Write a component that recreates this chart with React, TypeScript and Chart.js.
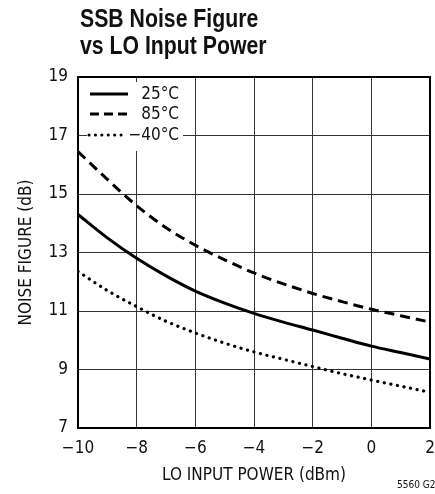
import React, { useEffect, useRef } from "react";
import { Chart, registerables } from "chart.js";

Chart.register(...registerables);

const xValues = [-10, -9, -8, -7, -6, -5, -4, -3, -2, -1, 0, 1, 2];
const nf25 = [14.3, 13.5, 12.8, 12.2, 11.68, 11.27, 10.92, 10.62, 10.35, 10.07, 9.8, 9.58, 9.36];
const nf85 = [16.45, 15.5, 14.6, 13.85, 13.25, 12.75, 12.3, 11.93, 11.6, 11.32, 11.06, 10.84, 10.62];
const nfm40 = [12.35, 11.7, 11.15, 10.65, 10.25, 9.9, 9.6, 9.35, 9.1, 8.86, 8.64, 8.43, 8.22];

const seriesLabels = ["25\u00B0C", "85\u00B0C", "\u221240\u00B0C"];
const titleLines = ["SSB Noise Figure", "vs LO Input Power"];
const xTitle = "LO INPUT POWER (dBm)";
const yTitle = "NOISE FIGURE (dB)";
const footnote = "5560 G22";

const FONT = '"DejaVu Sans Condensed", "Liberation Sans", sans-serif';
const TITLE_FONT = '"Liberation Sans", Arial, sans-serif';

const fmt = (v: number) => (v < 0 ? "\u2212" + Math.abs(v) : String(v));

const decorPlugin = {
  id: "decor",
  afterDraw(chart: any) {
    const { ctx, chartArea } = chart;
    ctx.save();
    // frame
    ctx.strokeStyle = "#000";
    ctx.lineWidth = 2;
    ctx.strokeRect(chartArea.left, chartArea.top, chartArea.right - chartArea.left, chartArea.bottom - chartArea.top);

    // title (condensed by horizontal scaling)
    ctx.save();
    ctx.fillStyle = "#111";
    ctx.font = `bold 25px ${TITLE_FONT}`;
    ctx.textAlign = "left";
    ctx.textBaseline = "alphabetic";
    ctx.translate(80, 0);
    ctx.scale(0.85, 1);
    ctx.fillText(titleLines[0], 0, 27);
    ctx.fillText(titleLines[1], 0, 54);
    ctx.restore();

    // legend box
    ctx.fillStyle = "#fff";
    ctx.fillRect(87, 82, 96, 69);
    const rows = [
      { y: 94, dash: [] as number[], cap: "butt" },
      { y: 114, dash: [9, 5], cap: "butt" },
      { y: 135, dash: [0.1, 6.3], cap: "round" },
    ];
    rows.forEach((r, i) => {
      ctx.beginPath();
      ctx.strokeStyle = "#000";
      ctx.lineWidth = 3;
      ctx.lineCap = r.cap;
      ctx.setLineDash(r.dash);
      ctx.moveTo(i === 2 ? 89 : 90, r.y);
      ctx.lineTo(i === 2 ? 127 : 128, r.y);
      ctx.stroke();
      ctx.setLineDash([]);
      ctx.fillStyle = "#111";
      ctx.font = `17px ${FONT}`;
      ctx.textAlign = "right";
      ctx.textBaseline = "middle";
      ctx.fillText(seriesLabels[i], 179, r.y + 1);
    });

    // footnote
    ctx.fillStyle = "#111";
    ctx.font = `10px ${FONT}`;
    ctx.textAlign = "left";
    ctx.textBaseline = "middle";
    ctx.fillText(footnote, 397, 485);
    ctx.restore();
  },
};

export default function App() {
  const ref = useRef<HTMLCanvasElement | null>(null);
  useEffect(() => {
    if (!ref.current) return;
    const mk = (vals: number[]) => xValues.map((x, i) => ({ x, y: vals[i] }));
    const chart = new Chart(ref.current, {
      type: "line",
      data: {
        datasets: [
          {
            label: seriesLabels[0],
            data: mk(nf25),
            borderColor: "#000",
            borderWidth: 3,
            pointRadius: 0,
            cubicInterpolationMode: "monotone",
          },
          {
            label: seriesLabels[1],
            data: mk(nf85),
            borderColor: "#000",
            borderWidth: 3,
            borderDash: [10, 6],
            pointRadius: 0,
            cubicInterpolationMode: "monotone",
          },
          {
            label: seriesLabels[2],
            data: mk(nfm40),
            borderColor: "#000",
            borderWidth: 3.2,
            borderDash: [0.1, 6.6],
            borderCapStyle: "round",
            pointRadius: 0,
            cubicInterpolationMode: "monotone",
          },
        ],
      },
      options: {
        animation: false,
        responsive: false,
        layout: { padding: { left: 0, top: 77, right: 5, bottom: 0 } },
        plugins: { legend: { display: false }, tooltip: { enabled: false }, title: { display: false } },
        scales: {
          x: {
            type: "linear",
            min: -10,
            max: 2,
            ticks: {
              stepSize: 2,
              color: "#111",
              padding: 10,
              font: { family: FONT, size: 17 },
              callback: (v: any) => fmt(Number(v)),
              maxRotation: 0,
            },
            grid: { color: "#333", lineWidth: 1, drawTicks: false },
            border: { display: false },
            title: {
              display: true,
              text: xTitle,
              color: "#111",
              font: { family: FONT, size: 17 },
              padding: { top: 0, bottom: 8 },
            },
            afterFit: (s: any) => {
              s.height = 66;
              s.paddingLeft = 0;
              s.paddingRight = 0;
            },
          },
          y: {
            type: "linear",
            min: 7,
            max: 19,
            ticks: {
              stepSize: 2,
              color: "#111",
              padding: 10,
              font: { family: FONT, size: 17 },
            },
            grid: { color: "#333", lineWidth: 1, drawTicks: false },
            border: { display: false },
            title: {
              display: true,
              text: yTitle,
              color: "#111",
              font: { family: FONT, size: 17 },
              padding: { top: 16, bottom: 0 },
            },
            afterFit: (s: any) => {
              s.width = 78;
              s.paddingTop = 0;
              s.paddingBottom = 0;
            },
          },
        },
      },
      plugins: [decorPlugin],
    } as any);
    return () => chart.destroy();
  }, []);
  return (
    <div style={{ position: "absolute", left: 0, top: 0, width: 435, height: 494, background: "#fff" }}>
      <canvas ref={ref} width={435} height={494} style={{ display: "block" }} />
    </div>
  );
}
